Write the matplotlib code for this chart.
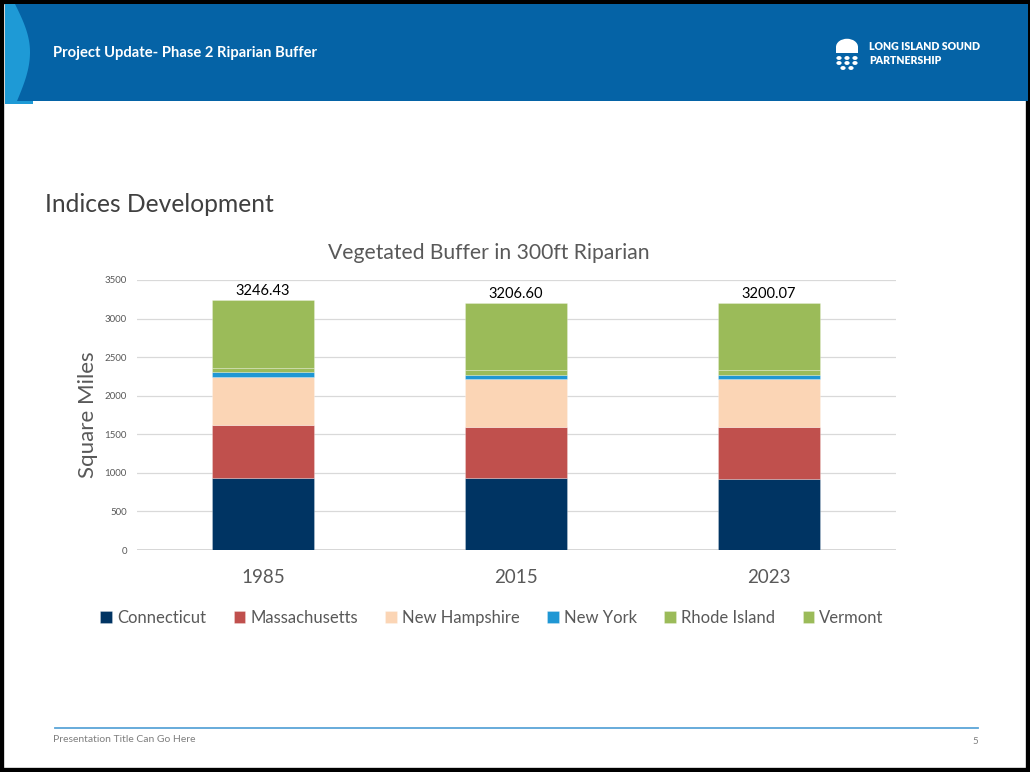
import numpy as np
import matplotlib
matplotlib.use("Agg")
import matplotlib.pyplot as plt
from matplotlib.patches import Rectangle, Polygon, Circle, Wedge

plt.rcParams["font.family"] = ["Lato", "DejaVu Sans"]

# ── Data (square miles of vegetated buffer, 300 ft riparian zone) ──
years = ["1985", "2015", "2023"]
states = ["Connecticut", "Massachusetts", "New Hampshire", "New York", "Rhode Island", "Vermont"]
connecticut = [938, 929, 924]
massachusetts = [680, 669, 666]
new_hampshire = [630, 618, 622]
new_york = [62, 56, 56]
rhode_island = [52, 61, 60]
vermont = [884.43, 873.60, 872.07]
totals = [3246.43, 3206.60, 3200.07]

colors = ["#003463", "#C0504D", "#FBD5B5", "#1F97D4", "#9BBB59", "#9BBB59"]

W, H = 1030, 772
fig = plt.figure(figsize=(W / 100, H / 100), dpi=100)


def fx(x):
    return x / W


def fy(y):
    return 1 - y / H


# ── Slide frame and header band ──
fig.patches.append(Rectangle((0, 0), 1, 1, transform=fig.transFigure,
                             facecolor="white", edgecolor="black", linewidth=6, zorder=-5))
fig.patches.append(Rectangle((fx(5), fy(101)), fx(1023), 97 / H, transform=fig.transFigure,
                             facecolor="#0563A6", edgecolor="none", zorder=1))
# light blue chevron on the left edge
t = np.linspace(0, 1, 30)
curve_top = [(fx(15 + 15 * np.sin(a * np.pi / 2)), fy(4 + 48 * a)) for a in t]
curve_bot = [(fx(30 - 13 * (1 - np.cos(a * np.pi / 2))), fy(52 + 49 * a)) for a in t]
chev = [(fx(5), fy(4))] + curve_top + curve_bot + [(fx(5), fy(101))]
fig.patches.append(Polygon(chev, closed=True, transform=fig.transFigure,
                           facecolor="#1E9AD6", edgecolor="none", zorder=2))
fig.patches.append(Rectangle((fx(5), fy(104)), 28 / W, 3 / H, transform=fig.transFigure,
                             facecolor="#1E9AD6", edgecolor="none", zorder=2))

fig.text(fx(53), fy(53), "Project Update- Phase 2 Riparian Buffer", color="white",
         fontsize=10.6, fontweight="bold", va="center", ha="left", zorder=3)

# logo: dome with dots beneath
fig.patches.append(Wedge((fx(847), fy(47)), 11 / W, 0, 180, transform=fig.transFigure,
                         facecolor="white", edgecolor="none", zorder=3))
fig.patches.append(Rectangle((fx(836), fy(53)), 22 / W, 6 / H, transform=fig.transFigure,
                             facecolor="white", edgecolor="none", zorder=3))
for cx, cy in [(839, 58), (847, 58), (855, 58), (839, 63), (847, 63), (855, 63), (843, 68), (851, 68)]:
    fig.patches.append(Circle((fx(cx), fy(cy)), 2.6 / W, transform=fig.transFigure,
                              facecolor="white", edgecolor="none", zorder=3))
fig.text(fx(869), fy(47), "LONG ISLAND SOUND", color="white", fontsize=7.6,
         fontweight="heavy", va="center", ha="left", zorder=3)
fig.text(fx(869), fy(60), "PARTNERSHIP", color="white", fontsize=7.6,
         fontweight="heavy", va="center", ha="left", zorder=3)

fig.text(fx(45), fy(205), "Indices Development", color="#404040", fontsize=17.7,
         va="center", ha="left")

# ── Stacked bar chart ──
ax = fig.add_axes([fx(136.5), fy(550), 759 / W, 270 / H])
ax.set_zorder(5)
ax.patch.set_alpha(0)
x = np.arange(len(years))
series = [connecticut, massachusetts, new_hampshire, new_york, rhode_island, vermont]
bottom = np.zeros(len(years))
for name, vals, c in zip(states, series, colors):
    ax.bar(x, vals, 0.40, bottom=bottom, color=c, label=name,
           edgecolor=(1, 1, 1, 0.35), linewidth=0.5, zorder=3)
    bottom += np.array(vals)

for xi, tot in zip(x, totals):
    ax.text(xi, tot + 25, f"{tot:.2f}", ha="center", va="bottom", fontsize=10.5, color="black")

ax.set_xlim(-0.5, 2.5)
ax.set_ylim(0, 3500)
ax.set_yticks(np.arange(0, 3501, 500))
ax.set_xticks(x)
ax.set_xticklabels(years)
ax.tick_params(axis="y", labelsize=7, colors="#595959", length=0, pad=7)
ax.tick_params(axis="x", labelsize=13.5, colors="#595959", length=0, pad=14)
ax.yaxis.grid(True, color="#D9D9D9", linewidth=0.9, zorder=0)
for s in ax.spines.values():
    s.set_visible(False)
ax.axhline(0, color="#D0D0D0", linewidth=1.2, zorder=2)

fig.text(fx(88), fy(415), "Square Miles", rotation=90, fontsize=16, color="#595959",
         ha="center", va="center")
fig.text(fx(489), fy(253), "Vegetated Buffer in 300ft Riparian", fontsize=15.2,
         color="#595959", ha="center", va="center")

fig.legend(loc="center", bbox_to_anchor=(fx(492), fy(618)), ncol=6, frameon=False,
           fontsize=12, labelcolor="#595959", handlelength=0.7, handleheight=0.7,
           handletextpad=0.3, columnspacing=1.65)

# ── Footer ──
fig.add_artist(plt.Line2D([fx(55), fx(978)], [fy(728), fy(728)], transform=fig.transFigure,
                          color="#5AA5D8", linewidth=1.3))
fig.text(fx(53), fy(740), "Presentation Title Can Go Here", color="#7F7F7F", fontsize=7.5,
         va="center", ha="left")
fig.text(fx(978), fy(741), "5", color="#7F7F7F", fontsize=7, va="center", ha="right")

fig.savefig("out.png", dpi=100)
